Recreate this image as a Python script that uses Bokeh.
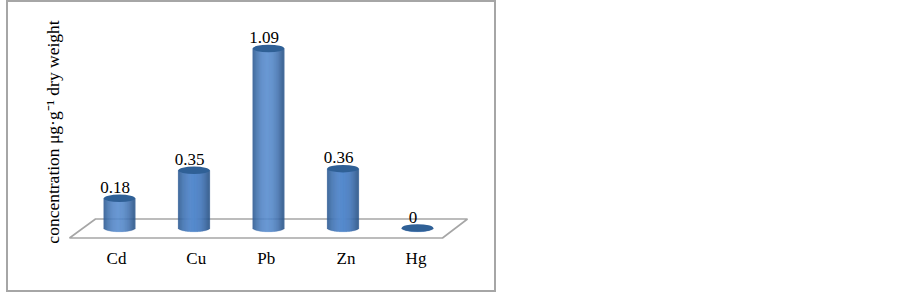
from bokeh.plotting import figure
from bokeh.embed import file_html
from bokeh.resources import INLINE
from bokeh.models import ColumnDataSource, FixedTicker
from bokeh.core.properties import value

metals = ["Cd", "Cu", "Pb", "Zn", "Hg"]
concentrations = [0.18, 0.35, 1.09, 0.36, 0.0]
value_labels = ["0.18", "0.35", "1.09", "0.36", "0"]
label_nudge = [-0.04, 0.03, -0.03, 0.04, -0.02]
y_title = "concentration μg·g⁻¹ dry weight"

PX_X, PX_Y = 74.5, 164.7
OX, OY = 8, 2  # inside of the framed box, on the page
BOX_W, BOX_H = 486, 288
F_L, F_R, F_T, F_B = 62, 480, 20, 243
X0, Y0 = 119, 227.5
FONT = "Liberation Serif"

p = figure(width=BOX_W, height=BOX_H, output_backend="svg", toolbar_location=None,
           x_range=((F_L - X0) / PX_X, (F_R - X0) / PX_X),
           y_range=((Y0 - F_B) / PX_Y, (Y0 - F_T) / PX_Y),
           min_border_left=F_L - OX, min_border_right=BOX_W + OX - F_R,
           min_border_top=F_T - OY, min_border_bottom=BOX_H + OY - F_B)
p.styles = {"position": "absolute", "left": f"{OX}px", "top": f"{OY}px",
            "outline": "2px solid #a6a6a6"}
p.outline_line_color = None
p.background_fill_color = None
p.border_fill_color = "white"
p.grid.visible = False

# floor
fx = [(px - X0) / PX_X for px in (69, 95, 467, 442)]
fy = [(Y0 - py) / PX_Y for py in (237.5, 218.5, 218.5, 237.5)]
p.patch(fx, fy, fill_color="white", line_color="#a6a6a6", line_width=1.6)

# cylinders: gradient made of thin strips
def mix(a, b, t):
    return "#%02x%02x%02x" % tuple(round(a[i] + (b[i] - a[i]) * t) for i in range(3))

EDGE, MID = (0x2f, 0x5a, 0x90), (0x55, 0x8a, 0xcd)
W, H = 31.5, 7.5
N = 32
L, R, T, B, C = [], [], [], [], []
for i, v in enumerate(concentrations):
    for k in range(N):
        u0 = -1 + 2 * k / N
        u1 = u0 + 2 / N
        um = (u0 + u1) / 2
        L.append(i + u0 * W / 2 / PX_X)
        R.append(i + u1 * W / 2 / PX_X)
        T.append(v)
        B.append(-(H / 2) * (1 - um * um) ** 0.5 / PX_Y)
        t = 1 - min(1, abs(um + 0.05) / 0.95) ** 2
        C.append(mix(EDGE, MID, t))
p.quad(left="l", right="r", top="t", bottom="b", fill_color="c", line_color="c", line_width=0.3,
       source=ColumnDataSource(dict(l=L, r=R, t=T, b=B, c=C)))

xs = list(range(len(metals)))
p.ellipse(xs, concentrations, width=W, height=H, width_units="screen", height_units="screen",
          fill_color="#2f6096", line_color=None)

p.text(xs, concentrations, text=value_labels, x_offset=-4.5, y_offset=-11,
       text_align="center", text_baseline="middle",
       text_font=value(FONT), text_font_size="17px", text_color="black")

# axes
ax = p.xaxis[0]
ticks = [i + n for i, n in enumerate(label_nudge)]
ax.ticker = FixedTicker(ticks=ticks)
ax.major_label_overrides = {t: m for t, m in zip(ticks, metals)}
ax.axis_line_color = None
ax.major_tick_line_color = None
ax.minor_tick_line_color = None
ax.major_tick_out = 0
ax.major_tick_in = 0
ax.major_label_standoff = 5
ax.major_label_text_font = FONT
ax.major_label_text_font_size = "17px"
ax.major_label_text_color = "black"

ay = p.yaxis[0]
ay.ticker = FixedTicker(ticks=[])
ay.axis_line_color = None
ay.major_tick_line_color = None
ay.minor_tick_line_color = None
ay.axis_label = y_title
ay.axis_label_text_font = FONT
ay.axis_label_text_font_style = "normal"
ay.axis_label_text_font_size = "17.5px"
ay.axis_label_text_color = "black"
ay.axis_label_standoff = 0

open("out.html", "w").write(file_html(p, INLINE))
